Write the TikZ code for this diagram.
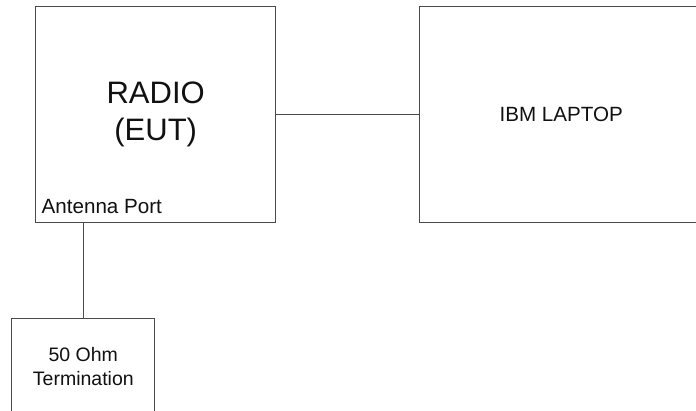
\documentclass[tikz,border=0pt]{standalone}
\usepackage{fontspec}
\setmainfont{Liberation Sans}
\usepackage{xcolor}
\usetikzlibrary{
  positioning,
  calc
}
\definecolor{edgeGray}{HTML}{4A4A4A}
\definecolor{textBlack}{HTML}{111111}
\tikzset{
  unit/.style    = {rectangle, draw=edgeGray, fill=white, line width=1pt,
                    align=center, text=textBlack, inner sep=0pt},
  bigtext/.style = {font=\fontsize{31}{37}\selectfont},
  smalltext/.style = {font=\fontsize{20.6}{24}\selectfont},
  termtext/.style  = {font=\fontsize{19.5}{24}\selectfont},
  wire/.style    = {draw=edgeGray, line width=1pt},
  note/.style    = {smalltext, text=textBlack, inner sep=0pt}
}

\begin{document}
\begin{tikzpicture}[x=1pt, y=-1pt]
\useasboundingbox (0,0) rectangle (696,411);
\clip (0,0) rectangle (696,411);
% the three units
\node[unit, bigtext, minimum width=240pt, minimum height=215.5pt]
  (radio) at (155.7,114.5) {RADIO\\(EUT)};
\node[unit, smalltext, minimum width=283.7pt, minimum height=215.5pt]
  (laptop) at (561.2,114.5) {IBM LAPTOP};
\node[unit, termtext, minimum width=143.3pt, minimum height=96pt]
  (term) at (83.3,367) {50 Ohm\\Termination};
\node[note, anchor=base west] (port) at (41.5,214) {Antenna Port};
% connections
\draw[wire] (radio.east) -- (laptop.west);
\draw[wire] (term.north) -- (term.north |- radio.south);
\end{tikzpicture}
\end{document}
